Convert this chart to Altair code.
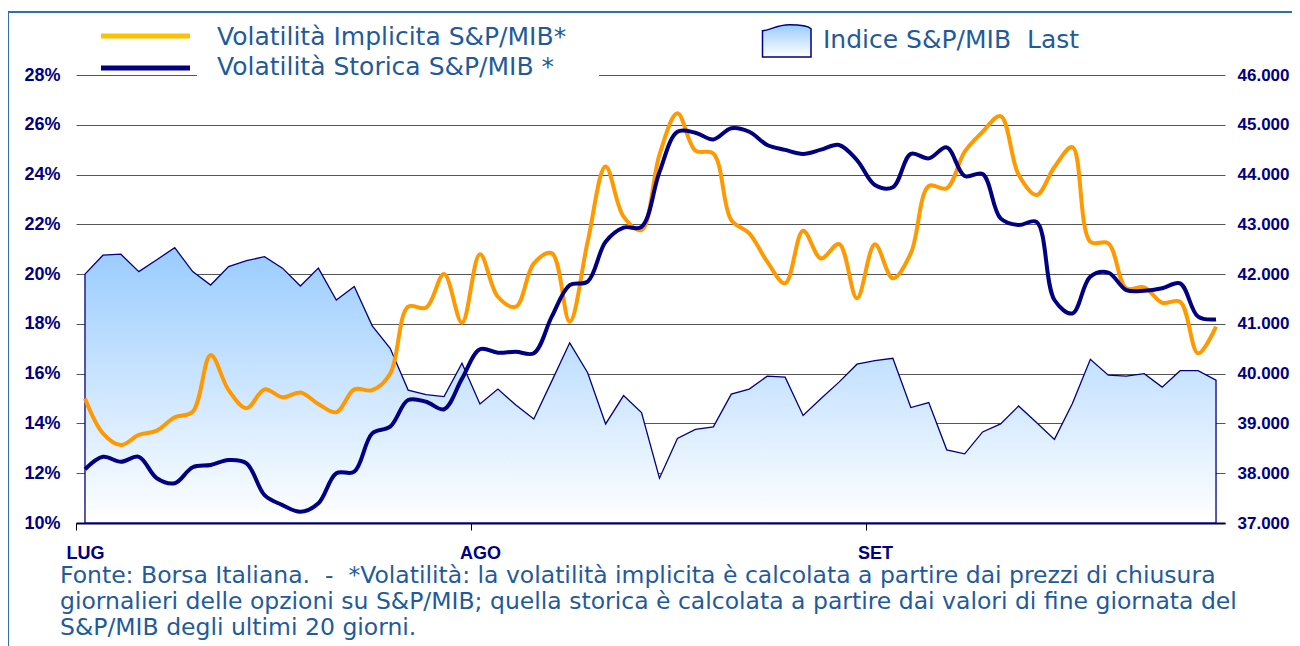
import altair as alt
import pandas as pd

# ---- data (trading days Jul-Sep) ----
days = list(range(64))
index_last = [42000, 42380, 42400, 42050, 42290, 42530, 42050, 41780, 42150, 42270,
              42350, 42120, 41760, 42120, 41480, 41750, 40960, 40510, 39670, 39580,
              39540, 40210, 39390, 39690, 39370, 39090, 39850, 40620, 40020, 38990,
              39560, 39220, 37900, 38700, 38880, 38930, 39590, 39690, 39950, 39930,
              39160, 39500, 39830, 40190, 40260, 40310, 39320, 39420, 38470, 38390,
              38830, 38990, 39350, 39020, 38680, 39400, 40290, 39970, 39950, 40000,
              39730, 40060, 40060, 39870]
vol_impl = [15.0, 13.6, 13.13, 13.54, 13.71, 14.25, 14.47, 16.75, 15.34, 14.61,
            15.37, 15.05, 15.24, 14.78, 14.45, 15.37, 15.34, 16.0, 18.69, 18.65,
            20.0, 18.05, 20.8, 19.09, 18.69, 20.43, 20.84, 18.09, 21.3, 24.32,
            22.31, 21.77, 24.8, 26.46, 24.96, 24.85, 22.17, 21.64, 20.5, 19.63,
            21.74, 20.63, 21.21, 19.03, 21.2, 19.83, 20.84, 23.54, 23.45, 24.92,
            25.72, 26.35, 24.0, 23.18, 24.3, 25.1, 21.3, 21.24, 19.43, 19.47,
            18.85, 18.89, 16.82, 17.89]
vol_stor = [12.16, 12.66, 12.46, 12.66, 11.8, 11.6, 12.24, 12.33, 12.53, 12.4,
            11.12, 10.72, 10.45, 10.79, 12.0, 12.06, 13.6, 13.87, 14.94, 14.87,
            14.57, 15.8, 16.98, 16.84, 16.88, 16.82, 18.29, 19.56, 19.7, 21.3,
            21.87, 21.9, 24.1, 25.72, 25.68, 25.41, 25.86, 25.72, 25.19, 24.99,
            24.83, 25.0, 25.19, 24.58, 23.58, 23.49, 24.83, 24.65, 25.09, 23.94,
            24.02, 22.24, 21.97, 22.1, 18.96, 18.42, 19.9, 20.06, 19.36, 19.33,
            19.43, 19.63, 18.29, 18.18]
series_names = ["Volatilità Implicita S&P/MIB*", "Volatilità Storica S&P/MIB *"]
area_name = "Indice S&P/MIB\u00a0\u00a0Last"
month_labels = ["LUG", "AGO", "SET"]
month_starts = [-0.5, 21.5, 43.5]
left_ticks = list(range(10, 29, 2))
right_ticks = list(range(37000, 46001, 1000))
footnote = [
    "Fonte: Borsa Italiana.\u00a0\u00a0-\u00a0\u00a0*Volatilità: la volatilità implicita è calcolata a partire dai prezzi di chiusura",
    "giornalieri delle opzioni su S&P/MIB; quella storica è calcolata a partire dai valori di fine giornata del",
    "S&P/MIB degli ultimi 20 giorni.",
]

W, H = 1149, 448
TXT = "#1F5B9B"
NAVY = "#000080"
ORANGE = "#FF9900"
GRID = "#555555"
AXFONT = "Liberation Sans"
TFONT = "DejaVu Sans"

df_idx = pd.DataFrame({"d": days, "v": index_last})
df_vol = pd.DataFrame({
    "d": days + days,
    "v": vol_impl + vol_stor,
    "s": [series_names[0]] * len(days) + [series_names[1]] * len(days),
})
one = pd.DataFrame({"k": [0]})

xscale = alt.Scale(domain=[-0.5, 63.5], nice=False, zero=False)
month_expr = "datum.value < %s ? '%s' : (datum.value < %s ? '%s' : '%s')" % (
    month_starts[1], month_labels[0], month_starts[2], month_labels[1], month_labels[2])
xaxis = alt.Axis(values=month_starts, labelExpr=month_expr, grid=False,
                 tickSize=7, tickColor="#000000", domainColor="#000033",
                 domainWidth=2, labelPadding=14, labelOffset=9, title=None,
                 labelFont=AXFONT, labelFontSize=18, labelFontWeight="bold",
                 labelColor=NAVY, labelAlign="center", labelFlush=False,
                 labelOverlap=False)

grad = alt.LinearGradient(
    gradient="linear",
    stops=[alt.GradientStop(color="#99CCFF", offset=0),
           alt.GradientStop(color="#FFFFFF", offset=1)],
    x1=0, x2=0, y1=0, y2=1,
)

area = alt.Chart(df_idx).mark_area(
    fill=grad, stroke=NAVY, strokeWidth=1.3, interpolate="linear"
).encode(
    x=alt.X("d:Q", scale=xscale, axis=xaxis),
    y=alt.Y("v:Q", scale=alt.Scale(domain=[37000, 46000], nice=False, zero=False),
            axis=alt.Axis(orient="right", values=right_ticks,
                          labelExpr="replace(format(datum.value, ',.0f'), ',', '.')",
                          grid=False, ticks=False, domain=False, labelPadding=12,
                          title=None, labelFont=AXFONT, labelFontSize=17,
                          labelFontWeight="bold", labelColor=NAVY)),
    y2=alt.datum(37000),
)

lines = alt.Chart(df_vol).mark_line(strokeWidth=4, interpolate="catmull-rom").encode(
    x=alt.X("d:Q", scale=xscale, axis=xaxis),
    y=alt.Y("v:Q", scale=alt.Scale(domain=[10, 28], nice=False, zero=False),
            axis=alt.Axis(values=left_ticks, labelExpr="datum.value + '%'",
                          grid=True, gridColor=GRID, gridWidth=1, ticks=False,
                          domain=False, labelPadding=16, title=None,
                          labelFont=AXFONT, labelFontSize=18, labelFontWeight="bold",
                          labelColor=NAVY)),
    color=alt.Color("s:N", scale=alt.Scale(domain=series_names, range=[ORANGE, NAVY]),
                    legend=None),
)

cover = alt.Chart(one).mark_rect(color="white").encode(
    x=alt.value(121), x2=alt.value(523), y=alt.value(-62), y2=alt.value(3))

leg1 = alt.Chart(one).mark_rule(color="#FFC000", strokeWidth=5).encode(
    x=alt.value(25), x2=alt.value(114), y=alt.value(-39))
leg2 = alt.Chart(one).mark_rule(color=NAVY, strokeWidth=5).encode(
    x=alt.value(25), x2=alt.value(114), y=alt.value(-7))

icon_path = "M-1,0.65 L-1,-0.42 C-0.7,-0.44 -0.4,-0.66 0.1,-0.66 C0.5,-0.66 0.85,-0.62 0.98,-0.5 L0.98,0.65 Z"
icon = alt.Chart(one).mark_point(
    shape=icon_path, size=2401, filled=True, fill=grad, stroke=NAVY,
    strokeWidth=1.5, opacity=1
).encode(x=alt.value(711), y=alt.value(-34))


def txt(s, x, y, size):
    return alt.Chart(one).mark_text(
        text=s, align="left", baseline="middle", font=TFONT, fontSize=size, color=TXT
    ).encode(x=alt.value(x), y=alt.value(y))


t1 = txt(series_names[0], 141, -38, 25)
t2 = txt(series_names[1], 141, -8, 25)
t3 = txt(area_name, 747, -35, 25)
f1 = txt(footnote[0], -16, 501, 23.5)
f2 = txt(footnote[1], -16, 527, 23.5)
f3 = txt(footnote[2], -16, 553, 23.5)

border = alt.Chart(one).mark_rect(
    filled=False, stroke="#2F6FB0", color="#2F6FB0", strokeWidth=2
).encode(x=alt.value(-68), x2=alt.value(1300), y=alt.value(-63), y2=alt.value(700))

chart = alt.layer(
    area, lines, cover, leg1, leg2, icon, t1, t2, t3, f1, f2, f3, border
).resolve_scale(y="independent").properties(
    width=W, height=H,
    padding={"left": 68, "top": 67, "right": 67, "bottom": 123},
    autosize=alt.AutoSizeParams(type="none"),
    background="white",
).configure_view(stroke=None)

chart.save("out.html", embed_options={"renderer": "svg", "actions": False})
